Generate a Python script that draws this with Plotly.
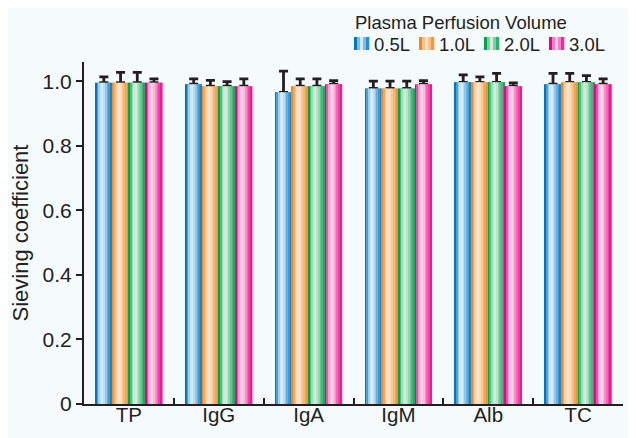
import plotly.graph_objects as go

# ---------------- data ----------------
categories = ["TP", "IgG", "IgA", "IgM", "Alb", "TC"]
series_names = ["0.5L", "1.0L", "2.0L", "3.0L"]
values_05 = [0.996, 0.991, 0.966, 0.978, 0.997, 0.991]
values_10 = [0.996, 0.985, 0.985, 0.978, 0.997, 0.997]
values_20 = [0.996, 0.985, 0.985, 0.978, 0.997, 0.997]
values_30 = [0.996, 0.985, 0.991, 0.991, 0.985, 0.991]
err_05 = [0.018, 0.017, 0.066, 0.023, 0.023, 0.034]
err_10 = [0.032, 0.018, 0.023, 0.023, 0.017, 0.028]
err_20 = [0.032, 0.014, 0.023, 0.023, 0.028, 0.021]
err_30 = [0.012, 0.023, 0.011, 0.011, 0.010, 0.017]
y_tick_vals = [0, 0.2, 0.4, 0.6, 0.8, 1.0]
y_tick_text = ["0", "0.2", "0.4", "0.6", "0.8", "1.0"]
legend_title = "Plasma Perfusion Volume"

series_values = [values_05, values_10, values_20, values_30]
series_errors = [err_05, err_10, err_20, err_30]

# ---------------- style ----------------
# the page body has an 8px margin, so the figure is 8px smaller than the window
W, H = 628, 430
ML, MR, MT, MB = 76, 13, 54, 34
PW, PH = W - ML - MR, H - MT - MB
PAGE_L, PAGE_B = 84, 404  # plot-area left and bottom in window pixels

dark_cols = [(0, 119, 192), (246, 134, 30), (0, 163, 80), (236, 0, 140)]
light_cols = [(214, 236, 250), (254, 230, 205), (212, 236, 218), (251, 212, 231)]
profile = [0.0, 0.35, 0.75, 0.95, 1.0, 0.88, 0.68, 0.48, 0.3, 0.12]
txt = "#231f20"
bg = "#f5fafd"
font_family = "Liberation Sans, Arial, sans-serif"

bw = 0.186
start = -0.372
nstrip = len(profile)


def mix(a, b, f):
    return "rgb(%d,%d,%d)" % tuple(round(a[k] + (b[k] - a[k]) * f) for k in range(3))


def px_x(p):
    return (p - PAGE_L) / PW


def px_y(p):
    return (PAGE_B - p) / PH


fig = go.Figure()

for i, name in enumerate(series_names):
    vals = series_values[i]
    errs = series_errors[i]
    # base bar carrying the error bars
    fig.add_trace(go.Bar(
        x=categories, y=vals, name=name,
        width=bw, offset=start + i * bw,
        marker=dict(color=mix(dark_cols[i], light_cols[i], 0.5), line=dict(width=0)),
        error_y=dict(type="data", symmetric=False, array=errs,
                     arrayminus=[0] * len(errs), color=txt, thickness=2.8, width=4.5),
        hoverinfo="skip",
    ))
    # gradient strips
    for j, f in enumerate(profile):
        fig.add_trace(go.Bar(
            x=categories, y=vals, name=name,
            width=bw / nstrip * 1.08, offset=start + i * bw + j * bw / nstrip,
            marker=dict(color=mix(dark_cols[i], light_cols[i], f), line=dict(width=0)),
            hoverinfo="skip",
        ))

# ---------------- legend (drawn in paper space) ----------------
shapes = []
annotations = [dict(
    text=legend_title, xref="paper", yref="paper",
    x=px_x(353), y=px_y(22), xanchor="left", yanchor="middle",
    showarrow=False, font=dict(size=18.5, color=txt, family=font_family),
)]
sw_x0, stride, sw_w = 354, 65, 15
sw_y0, sw_y1 = 37, 50
sw_prof = [0.0, 0.6, 1.0, 0.6, 0.2]
for i, name in enumerate(series_names):
    x0 = sw_x0 + i * stride
    n = len(sw_prof)
    for j, f in enumerate(sw_prof):
        shapes.append(dict(
            type="rect", xref="paper", yref="paper",
            x0=px_x(x0 + j * sw_w / n), x1=px_x(x0 + (j + 1) * sw_w / n + 0.3),
            y0=px_y(sw_y1), y1=px_y(sw_y0),
            fillcolor=mix(dark_cols[i], light_cols[i], f), line=dict(width=0),
            layer="above",
        ))
    annotations.append(dict(
        text=name, xref="paper", yref="paper",
        x=px_x(x0 + sw_w + 3), y=px_y(44), xanchor="left", yanchor="middle",
        showarrow=False, font=dict(size=18.5, color=txt, family=font_family),
    ))

fig.update_layout(
    width=W, height=H,
    barmode="overlay",
    paper_bgcolor=bg, plot_bgcolor=bg,
    margin=dict(l=ML, r=MR, t=MT, b=MB, autoexpand=False),
    font=dict(family=font_family, size=20, color=txt),
    showlegend=False,
    shapes=shapes,
    annotations=annotations,
)

fig.update_xaxes(
    type="category",
    showline=True, linewidth=2, linecolor=txt,
    ticks="inside", tickson="boundaries", ticklen=6, tickwidth=2, tickcolor=txt,
    showgrid=False, zeroline=False,
    tickfont=dict(size=20.5, color=txt),
    ticklabelstandoff=-9,
    range=[-0.5, 5.5],
)
fig.update_yaxes(
    range=[0, 1.06],
    tickvals=y_tick_vals, ticktext=y_tick_text,
    showline=True, linewidth=2, linecolor=txt,
    ticks="outside", ticklen=6, tickwidth=1.5, tickcolor=txt,
    showgrid=False, zeroline=False,
    tickfont=dict(size=21, color=txt),
    title=dict(text="Sieving coefficient", font=dict(size=22, color=txt), standoff=8),
)

fig.write_html("out.html")
